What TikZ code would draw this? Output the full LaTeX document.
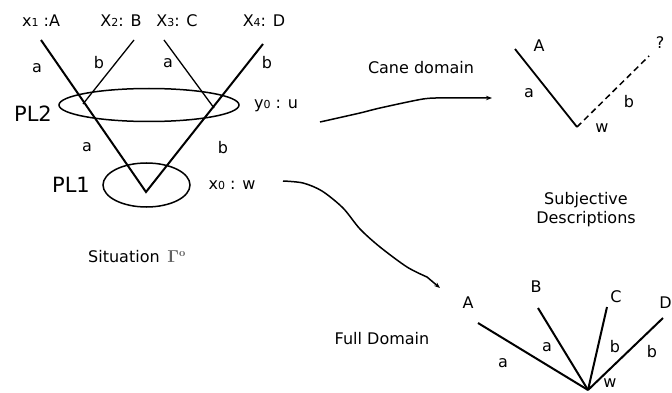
\documentclass[tikz,border=0pt]{standalone}
\usepackage{fontspec}
\setmainfont{DejaVu Sans}
\usetikzlibrary{arrows.meta}
\tikzset{
  lbl/.style={inner sep=0pt, font=\fontsize{16}{19}\selectfont},
  big/.style={inner sep=0pt, font=\fontsize{21}{25}\selectfont},
  heavy/.style={line width=2pt},
  light/.style={line width=1.3pt},
  ring/.style={line width=1.5pt},
  hand/.style={line width=1.5pt, -{Stealth[length=6pt,width=4.5pt]}},
}
\newcommand{\dg}[1]{{\fontsize{11}{12}\selectfont #1}}
\begin{document}
\begin{tikzpicture}[x=1pt,y=-1pt]
\useasboundingbox (0,0) rectangle (672,393);

% ---------- situation: the two information sets ----------
\node[lbl] (xA) at (41,21) {x\dg{1} :A};
\node[lbl] (xB) at (121,21) {X\dg{2}: B};
\node[lbl] (xC) at (177,21) {X\dg{3}: C};
\node[lbl] (xD) at (264,21) {X\dg{4}: D};

\coordinate (v)  at (146,192);
\coordinate (tA) at (41,40);
\coordinate (tB) at (134,40);
\coordinate (eB) at (83,104);
\coordinate (tC) at (164,40);
\coordinate (eC) at (214,108);
\coordinate (tD) at (263,44);

\draw[heavy] (tA) -- (v) -- (tD);
\draw[light] (tB) -- (eB);
\draw[light] (tC) -- (eC);

\draw[ring] (149,105) ellipse [x radius=90, y radius=16.5];
\draw[ring] (146.5,185) ellipse [x radius=43.5, y radius=22];

\node[lbl] (la1) at (37,68) {a};
\node[lbl] (lb1) at (99,63) {b};
\node[lbl] (la2) at (168,63) {a};
\node[lbl] (lb2) at (267,63) {b};
\node[lbl] (la3) at (87,147) {a};
\node[lbl] (lb3) at (223,148) {b};

\node[big] (pl2) at (33,114) {PL2};
\node[big] (pl1) at (71,185) {PL1};
\node[lbl] (y0) at (276,106) {y\dg{0} : u};
\node[lbl] (x0) at (232,185) {x\dg{0} : w};

\node[lbl, anchor=west] (sit) at (88,257) {Situation\,
  {\color{gray!75!black}\boldmath$\Gamma^{\mathbf{o}}$}};

% ---------- cane domain ----------
\node[lbl] (cane) at (421,68) {Cane domain};
\coordinate (c0) at (320,122);
\coordinate (c1) at (492,98);
\draw[hand] plot[smooth, tension=0.5] coordinates
  {(c0) (360,113) (380,108) (423,99) (443,98)} -- (c1);

\coordinate (cv) at (577,127);
\coordinate (cA) at (515,49);
\coordinate (cQ) at (649,56);
\draw[line width=1.8pt] (cA) -- (cv);
\draw[line width=1.5pt, dash pattern=on 6pt off 4pt] (cv) -- (cQ);
\node[lbl] (cAl) at (539,46) {A};
\node[lbl] (cQl) at (660,43) {?};
\node[lbl] (cal) at (529,93) {a};
\node[lbl] (cbl) at (629,102) {b};
\node[lbl] (cwl) at (602,128) {w};

% ---------- subjective descriptions ----------
\node[lbl, align=center] (subj) at (586,210) {Subjective\\Descriptions};

% ---------- full domain ----------
\node[lbl] (full) at (382,339) {Full Domain};
\coordinate (f0) at (283,181);
\coordinate (f1) at (440,288);
\draw[hand] plot[smooth, tension=0.5] coordinates
  {(f0) (303,183) (322,191) (343,208) (360,229) (380,247) (407,267) (427,277)} -- (f1);

\coordinate (fv) at (588,390);
\coordinate (fA) at (478,323);
\coordinate (fB) at (538,308);
\coordinate (fC) at (607,307);
\coordinate (fD) at (663,318);
\draw[heavy] (fA) -- (fv);
\draw[heavy] (fB) -- (fv);
\draw[heavy] (fC) -- (fv);
\draw[heavy] (fD) -- (fv);

\node[lbl] (fAl) at (468,303) {A};
\node[lbl] (fBl) at (536,287) {B};
\node[lbl] (fCl) at (616,297) {C};
\node[lbl, anchor=east] (fDl) at (672,303) {D};
\node[lbl] (fa1) at (503,363) {a};
\node[lbl] (fa2) at (547,347) {a};
\node[lbl] (fb1) at (615,347) {b};
\node[lbl] (fb2) at (652,352) {b};
\node[lbl] (fw)  at (610,383) {w};
\end{tikzpicture}
\end{document}
